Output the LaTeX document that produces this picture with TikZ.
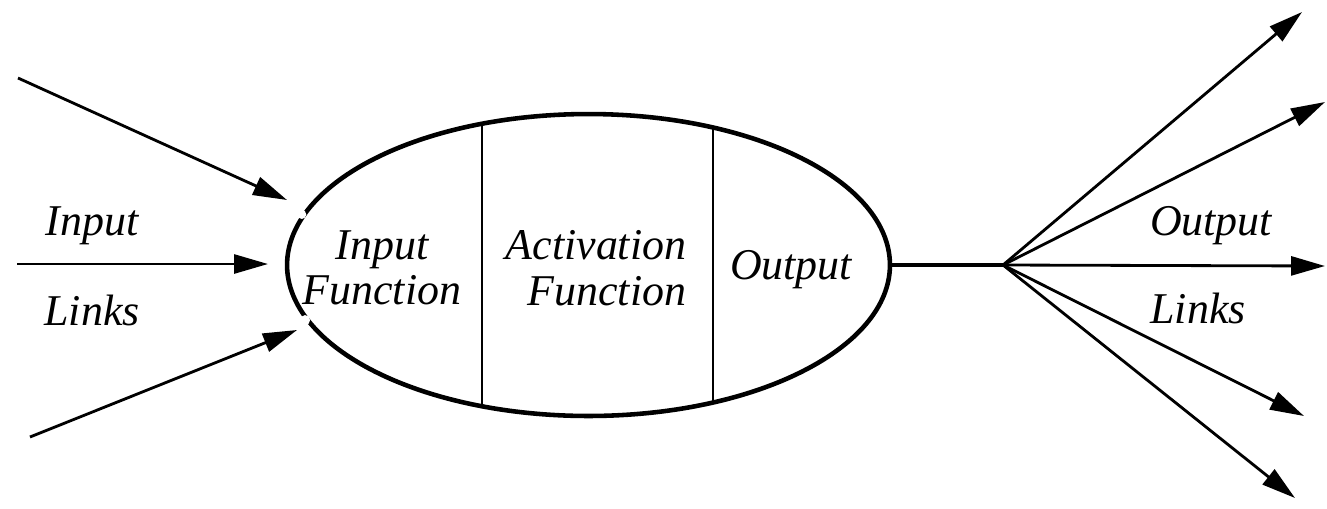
\documentclass[tikz,border=0pt]{standalone}
\usepackage{fontspec}
\setmainfont{Liberation Serif}
\usetikzlibrary{shapes.geometric, positioning, arrows.meta, calc}

\begin{document}
\begin{tikzpicture}[x=0.02cm, y=-0.02cm,
		% Link arrow style
		link/.style={
			line width=1.6pt,
			-{Triangle[length=0.68cm, width=0.38cm]}
		},
		% Italic text labels
		linklabel/.style={
			font=\fontsize{25}{26}\selectfont\itshape,
			inner sep=0pt
		},
		% Lines splitting the unit
		divider/.style={
			line width=1.3pt
		}
		]
		
		\useasboundingbox (0,0) rectangle (1327,508);
		
		% --- Processing unit ---
		\node[draw, ellipse, line width=2.6pt, minimum width=12.06cm, minimum height=6.04cm, inner sep=0pt] (neuron) at (588.5,265) {};
		
		% small breaks where the links meet the unit
		\fill[white] (neuron.170) circle (0.09cm);
		\fill[white] (neuron.191) circle (0.1cm);
		
		\draw[divider] (482,124) -- (482,406);
		\draw[divider] (713,127.5) -- (713,402.5);
		
		\node[linklabel, align=center] (infunc) at (382,268) {Input\\Function};
		\node[linklabel, align=right] (actfunc) at (596,268) {Activation\\Function};
		\node[linklabel] (outfunc) at (791,270) {Output};
		
		% --- Input links ---
		\coordinate (in1) at (18,78);
		\coordinate (in1tip) at (287,200);
		\coordinate (in2) at (17,264);
		\coordinate (in2tip) at (268,264);
		\coordinate (in3) at (30,437);
		\coordinate (in3tip) at (297,330);
		
		\draw[link] (in1) -- (in1tip);
		\draw[link] (in2) -- (in2tip);
		\draw[link] (in3) -- (in3tip);
		
		\node[linklabel, anchor=base] (inlab) at (92,235) {Input};
		\node[linklabel, anchor=base] (inlinks) at (92,325) {Links};
		
		% --- Output links ---
		\coordinate (hub) at (1003,265);
		\coordinate (out1) at (1302,12);
		\coordinate (out2) at (1325,102);
		\coordinate (out3) at (1325,266);
		\coordinate (out4) at (1304,416);
		\coordinate (out5) at (1295,498);
		
		\draw[line width=2.4pt] (neuron.east) -- (hub);
		\foreach \o in {out1,out2,out3,out4,out5}
		\draw[link] (hub) -- (\o);
		
		\node[linklabel, anchor=base] (outlab) at (1211,235) {Output};
		\node[linklabel, anchor=base] (outlinks) at (1198,323) {Links};
		
	\end{tikzpicture}
\end{document}
